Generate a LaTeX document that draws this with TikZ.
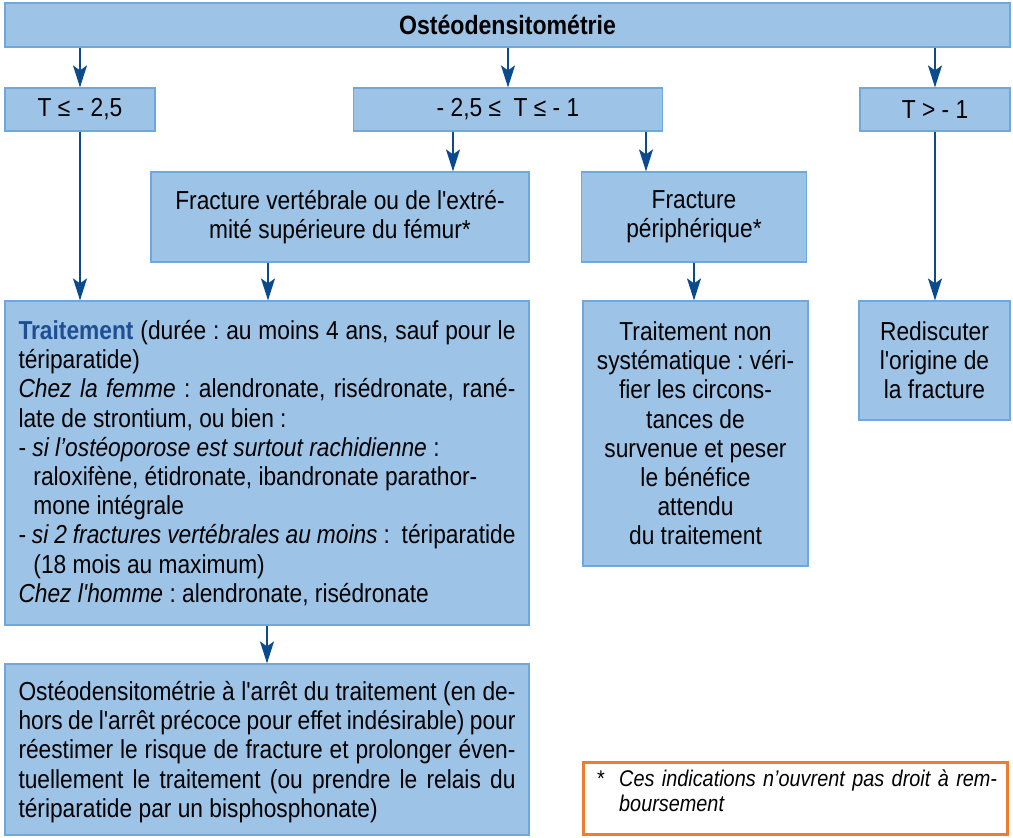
\documentclass[tikz,border=0pt]{standalone}
\usepackage{fontspec}
\usepackage{graphicx}
\setmainfont{Liberation Sans}[Ligatures=TeXOff]
\usetikzlibrary{arrows.meta}
\definecolor{boxfill}{HTML}{9DC3E6}
\definecolor{boxline}{HTML}{6FA8DC}
\definecolor{arrowblue}{HTML}{0B4A8C}
\definecolor{titleblue}{HTML}{1F4E94}
\definecolor{noteorange}{HTML}{EE7D2F}
% text is set at natural width and squeezed horizontally by 0.875
\newcommand\sx[1]{\scalebox{0.875}[1]{#1}}
\newlength\twB
\setlength\twB{568pt}
\newlength\indB
\setlength\indB{17.1pt}
\newcommand\jline[1]{\makebox[\twB][s]{#1}}
\newcommand\cpar[2]{\sx{\parbox{#1}{\centering #2}}}
\newcommand\setsz[2]{\fontsize{#1}{#2}\selectfont\frenchspacing
  \spaceskip=0.278em plus 0.2em minus 0.12em\relax}
\frenchspacing
\tikzset{
  box/.style={draw=boxline, line width=1.2pt, fill=boxfill, inner sep=0pt,
    font=\setsz{26}{29.2}, text=black},
  arr/.style={draw=arrowblue, line width=1.6pt,
    -{Stealth[length=22pt,width=14pt,inset=5pt]}},
  notebox/.style={draw=noteorange, line width=3pt, fill=white, inner sep=0pt}
}
\begin{document}
\begin{tikzpicture}[x=1pt,y=-1pt]
\useasboundingbox (0,0) rectangle (1013,838);
% boxes
\node[box, minimum width=1005pt, minimum height=44pt,
  font=\bfseries\setsz{26.4}{29.2}] (top) at (507.5,25) {\sx{Ostéodensitométrie}};
\node[box, minimum width=150pt, minimum height=43pt] (t1) at (80,109.5) {\sx{T ≤ - 2,5}};
\node[box, minimum width=309pt, minimum height=43pt] (t2) at (508,109.5) {\sx{- 2,5 ≤\ \ T ≤ - 1}};
\node[box, minimum width=150pt, minimum height=43pt] (t3) at (935,109.5) {\sx{T > - 1}};
\node[box, minimum width=378pt, minimum height=90pt]
  (f1) at (340,217) {\cpar{420pt}{Fracture vertébrale ou de l'extré-\\mité supérieure du fémur*}};
\node[box, minimum width=225pt, minimum height=90pt]
  (f2) at (694,217) {\cpar{250pt}{Fracture\\périphérique*}};
\node[box, minimum width=524pt, minimum height=324pt]
  (tr) at (267,463) {\sx{\parbox{\twB}{\raggedright
  \jline{\textcolor{titleblue}{\textbf{Traitement}} (durée : au moins 4 ans, sauf pour le}\\
  tériparatide)\\
  \jline{\textit{Chez la femme} : alendronate, risédronate, rané-}\\
  late de strontium, ou bien :\\
  - \textit{si l’ostéoporose est surtout rachidienne} :\\
  \hspace*{\indB}raloxifène, étidronate, ibandronate parathor-\\
  \hspace*{\indB}mone intégrale\\
  \jline{- \textit{si 2 fractures vertébrales au moins} :\ \ tériparatide}\\
  \hspace*{\indB}(18 mois au maximum)\\
  \textit{Chez l'homme} : alendronate, risédronate}}};
\node[box, minimum width=225pt, minimum height=265pt]
  (tn) at (695.5,433.5) {\cpar{250pt}{Traitement non\\systématique : véri-\\fier les circons-\\tances de\\survenue et peser\\le bénéfice\\attendu\\du traitement}};
\node[box, minimum width=151pt, minimum height=119pt]
  (rd) at (934.5,360.5) {\cpar{170pt}{Rediscuter\\l'origine de\\la fracture}};
\node[box, minimum width=524pt, minimum height=171pt]
  (od) at (267,749.5) {\sx{\parbox{\twB}{\raggedright
  \jline{\rule{0pt}{24pt}Ostéodensitométrie à l'arrêt du traitement (en de-}\\
  \jline{hors de l'arrêt précoce pour effet indésirable) pour}\\
  \jline{réestimer le risque de fracture et prolonger éven-}\\
  \jline{tuellement le traitement (ou prendre le relais du}\\
  tériparatide par un bisphosphonate)}}};
% footnote
\node[notebox, minimum width=424pt, minimum height=72pt] (fn) at (795.5,798.5) {};
\node[anchor=north west, inner sep=0pt, font=\setsz{22.7}{24.5}] (fntext) at (597,770)
  {\sx{\parbox{457pt}{\raggedright
  \makebox[25.1pt][l]{*}\makebox[432pt][s]{\textit{Ces indications n’ouvrent pas droit à rem-}}\\
  \hspace*{25.1pt}\textit{boursement}}}};
% connectors
\draw[arr] (top.south -| t1.north) -- (t1.north);
\draw[arr] (top.south -| t2.north) -- (t2.north);
\draw[arr] (top.south -| t3.north) -- (t3.north);
\draw[arr] ([xshift=-55pt]t2.south) -- ([xshift=-55pt]t2.south |- f1.north);
\draw[arr] ([xshift=138pt]t2.south) -- ([xshift=138pt]t2.south |- f2.north);
\draw[arr] (t1.south) -- (t1.south |- tr.north);
\draw[arr] ([xshift=-72pt]f1.south) -- ([xshift=-72pt]f1.south |- tr.north);
\draw[arr] (f2.south) -- (f2.south |- tn.north);
\draw[arr] (t3.south) -- (t3.south |- rd.north);
\draw[arr] (tr.south) -- (tr.south |- od.north);
\end{tikzpicture}
\end{document}
